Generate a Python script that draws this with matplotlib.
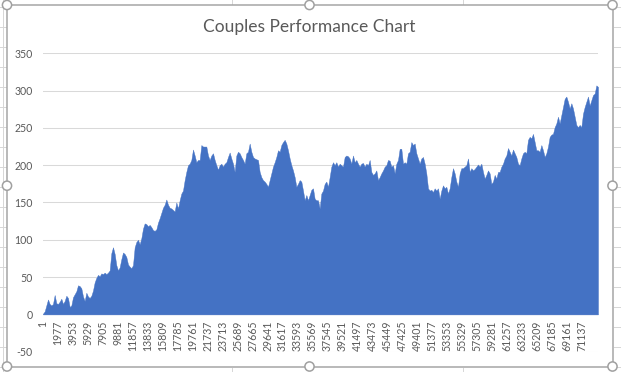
import matplotlib
matplotlib.use('Agg')
import matplotlib.pyplot as plt
import numpy as np
from matplotlib.patches import Circle, Rectangle
from matplotlib.lines import Line2D
from matplotlib.transforms import IdentityTransform

# ---------------- data ----------------
title = "Couples Performance Chart"
sample_step = 220          # categories between sampled values
values = [
    1, 4, 12, 20, 14, 12, 14, 26, 15, 14,
    17, 21, 14, 18, 25, 22, 10, 12, 23, 27,
    31, 39, 38, 35, 24, 18, 29, 24, 22, 25,
    32, 43, 49, 53, 51, 55, 54, 56, 54, 56,
    59, 82, 90, 81, 66, 59, 63, 74, 83, 81,
    77, 67, 64, 62, 66, 90, 97, 100, 94, 102,
    115, 122, 121, 118, 120, 117, 113, 112, 114, 123,
    129, 136, 143, 147, 154, 147, 143, 142, 140, 138,
    150, 142, 153, 162, 166, 180, 191, 200, 202, 207,
    221, 213, 204, 207, 207, 227, 225, 225, 225, 213,
    207, 213, 216, 207, 200, 194, 200, 202, 198, 202,
    204, 211, 217, 209, 202, 191, 213, 218, 216, 211,
    207, 202, 216, 218, 229, 218, 211, 209, 208, 207,
    191, 184, 180, 178, 175, 171, 180, 189, 198, 204,
    211, 220, 218, 227, 231, 234, 229, 220, 209, 200,
    193, 184, 171, 175, 180, 178, 166, 153, 160, 153,
    160, 167, 169, 155, 153, 153, 142, 162, 166, 175,
    178, 171, 184, 198, 204, 200, 204, 198, 202, 200,
    198, 211, 213, 212, 209, 202, 213, 204, 207, 202,
    198, 202, 203, 198, 202, 200, 207, 191, 187, 189,
    193, 180, 184, 189, 193, 198, 200, 207, 206, 198,
    200, 189, 202, 207, 222, 222, 202, 204, 202, 216,
    218, 231, 227, 229, 216, 209, 202, 209, 211, 202,
    189, 169, 166, 167, 164, 169, 166, 169, 155, 166,
    173, 169, 171, 162, 169, 184, 196, 189, 178, 171,
    189, 196, 196, 198, 200, 209, 191, 196, 193, 195,
    198, 201, 198, 202, 191, 182, 187, 193, 189, 175,
    178, 187, 182, 191, 191, 198, 202, 209, 213, 223,
    218, 213, 221, 216, 211, 202, 200, 209, 216, 218,
    216, 234, 238, 236, 242, 231, 220, 220, 218, 227,
    220, 211, 216, 225, 238, 241, 242, 251, 256, 265,
    256, 267, 278, 289, 292, 285, 276, 283, 276, 265,
    254, 251, 254, 251, 269, 278, 285, 292, 280, 287,
    294, 296, 307, 305,
]
x_tick_labels = [str(v) for v in range(1, 71138, 1976)]
y_ticks = [-50, 0, 50, 100, 150, 200, 250, 300, 350]

# ---------------- style ----------------
W, H = 621, 372
FONT = ['Lato', 'DejaVu Sans']
TXT = '#595959'
plt.rcParams['font.family'] = FONT

fig = plt.figure(figsize=(W / 100, H / 100), dpi=100)
fig.patch.set_facecolor('white')

# spreadsheet cell lines outside the chart frame
pix = IdentityTransform()
cell_col = '#D6D6D6'
for yy in np.arange(6.7, H, 20):
    fig.add_artist(Line2D([0, 6], [H - yy, H - yy], color=cell_col, lw=0.7,
                          transform=pix, zorder=-3))
    fig.add_artist(Line2D([614, W], [H - yy, H - yy], color=cell_col, lw=0.7,
                          transform=pix, zorder=-3))
for xx in (231.7, 463.3):
    fig.add_artist(Line2D([xx, xx], [H - 4, H], color=cell_col, lw=0.7,
                          transform=pix, zorder=-3))
    fig.add_artist(Line2D([xx, xx], [0, H - 368], color=cell_col, lw=0.7,
                          transform=pix, zorder=-3))
fig.add_artist(Line2D([2.7, 2.7], [0, H], color=cell_col, lw=0.7,
                      transform=pix, zorder=-3))

# chart area (white) + frame
fig.add_artist(Rectangle((7, H - 366.5), 605.5, 361.5, facecolor='white',
                         edgecolor='#A6A6A6', lw=1.1, transform=pix, zorder=-2))

ax = fig.add_axes([43 / W, 1 - 351.7 / H, (598 - 43) / W, (351.7 - 53.3) / H])
ax.set_facecolor('none')
x = 1 + np.arange(len(values)) * sample_step
ax.fill_between(x, 0, values, color='#4472C4', lw=0.3, edgecolor='#4472C4', zorder=2)
ax.set_xlim(1, x[-1])
ax.set_ylim(-50, 350)
ax.set_yticks(y_ticks)
ax.set_yticklabels([str(v) for v in y_ticks])
ax.yaxis.grid(True, color='#D9D9D9', lw=0.75)
ax.set_axisbelow(True)
for s in ['top', 'right', 'left', 'bottom']:
    ax.spines[s].set_visible(False)
ax.spines['bottom'].set_position(('data', 0))
ax.set_xticks([int(v) for v in x_tick_labels])
ax.set_xticklabels(x_tick_labels, rotation=90, va='top', ha='center')
ax.tick_params(axis='x', length=0, pad=4.6, labelsize=7.6, labelcolor=TXT)
ax.tick_params(axis='y', length=0, pad=7.3, labelsize=7.6, labelcolor=TXT)

fig.text(309 / W, 1 - 27 / H, title, ha='center', va='center',
         fontsize=12.5, color=TXT, family=FONT)

# selection handles
for cx, cy in [(7, 5), (309.5, 5), (612.5, 5), (7, 185.7), (612.5, 185.7),
               (7, 366.5), (309.5, 366.5), (612.5, 366.5)]:
    fig.add_artist(Circle((cx, H - cy), radius=4.6, facecolor='white',
                          edgecolor='#A0A0A0', lw=1.1, transform=pix, zorder=10))

fig.savefig('out.png', dpi=100)
